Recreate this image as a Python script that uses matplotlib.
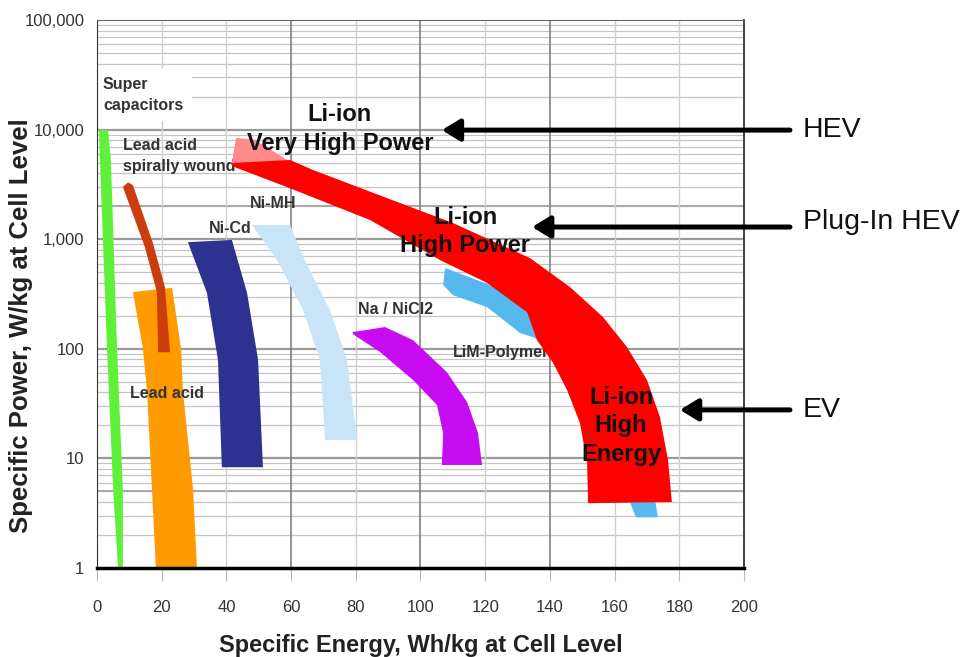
import matplotlib
matplotlib.use("Agg")
import matplotlib.pyplot as plt
from matplotlib.patches import Polygon
from matplotlib.ticker import FixedLocator, FuncFormatter
import numpy as np

plt.rcParams['font.family'] = ['Liberation Sans', 'DejaVu Sans']

# axis ticks
energy_ticks = [0, 20, 40, 60, 80, 100, 120, 140, 160, 180, 200]
power_ticks = [1, 10, 100, 1000, 10000, 100000]

# each chemistry: (energy, power) along one edge, then along the other edge
supercap_e_a = [0.6, 0.9, 3.1, 5.0, 6.5]
supercap_p_a = [9900, 5300, 100, 5.2, 1]
supercap_e_b = [3.4, 4.3, 6.2, 8.0, 8.0]
supercap_p_b = [9900, 5300, 100, 5.2, 1]

spiral_e_a = [8.0, 14.8, 18.5, 18.9]
spiral_p_a = [3000, 850, 330, 93]
spiral_e_b = [9.6, 11.1, 17.3, 21.0, 22.6]
spiral_p_b = [3300, 3120, 920, 366, 93]

leadacid_e_a = [11.1, 14.2, 15.5, 17.0, 18.2]
leadacid_p_a = [330, 100, 40, 5.2, 1]
leadacid_e_b = [23.2, 26.0, 26.6, 29.7, 30.9]
leadacid_p_b = [360, 100, 40, 5.2, 1]

nicd_e_a = [28.1, 34.0, 37.4, 38.6]
nicd_p_a = [940, 323, 79, 8.3]
nicd_e_b = [41.7, 46.4, 49.8, 51.3]
nicd_p_b = [985, 323, 79, 8.3]

nimh_e_a = [47.9, 55.6, 63.7, 68.9, 70.5]
nimh_p_a = [1350, 650, 226, 79, 14.7]
nimh_e_b = [59.7, 63.7, 72.0, 77.3, 80.4]
nimh_p_b = [1350, 690, 226, 79, 14.7]

nacl_e_a = [79.1, 89.0, 97.7, 108.2, 114.4, 117.8, 119.0]
nacl_p_a = [142, 158, 120, 61, 32.7, 17.0, 8.7]
nacl_e_b = [79.1, 87.5, 97.7, 105.1, 107.0, 106.6]
nacl_p_b = [136, 93.5, 51.9, 30.7, 17.0, 8.7]

lim_e_a = [107.6, 121.5, 136.9, 152.4, 164.8, 172.5, 173.4]
lim_p_a = [546, 382, 226, 64, 14.7, 4.2, 2.9]
lim_e_b = [107.0, 110.0, 120.6, 130.8, 134.8, 143.1, 147.8, 157.0, 163.2, 166.6]
lim_p_b = [382, 309, 240, 139, 128, 93.5, 64, 18.2, 5.15, 2.9]

liion_e_a = [41.7, 59.7, 66.8, 89.6, 110, 133.8, 146.2, 156.4, 163.8, 170, 174, 176.5, 177.7]
liion_p_a = [4960, 5280, 4280, 2375, 1406, 674, 366, 195, 104, 52, 23.9, 9.7, 4.0]
liion_e_b = [41.7, 58.7, 84.4, 106, 120.6, 133.0, 136.0, 141.0, 145.3, 149.3, 151.5, 151.8]
liion_p_b = [4650, 2995, 1497, 646, 399, 215, 120, 74.2, 42.1, 21.0, 9.1, 3.9]

tip_e = [41.7, 43.0, 48.8, 60.3]
tip_p = [4960, 8400, 8100, 4960]

# text labels
small_labels = ['Super\ncapacitors', 'Lead acid\nspirally wound', 'Ni-MH', 'Ni-Cd',
                'Lead acid', 'Na / NiCl2', 'LiM-Polymer']
small_e = [1.85, 8.0, 47.3, 34.6, 10.2, 80.7, 110.0]
small_p = [20700, 5800, 2140, 1240, 39.5, 226, 91.6]

big_labels = ['Li-ion\nVery High Power', 'Li-ion\nHigh Power', 'Li-ion\nHigh\nEnergy']
big_e = [75.1, 113.8, 162.0]
big_p = [10100, 1175, 19.8]

vehicles = ['HEV', 'Plug-In HEV', 'EV']
arrow_head_e = [106.6, 134.5, 180.2]
arrow_p = [9900, 1292, 27.7]
label_p = [9900, 1435, 27.7]
arrow_tail_e = 214.2
label_e = 218.2


def band(e_a, p_a, e_b, p_b):
    pts = list(zip(e_a, p_a)) + list(zip(e_b[::-1], p_b[::-1]))
    return np.array(pts)


fig = plt.figure(figsize=(9.66, 6.57), dpi=100)
ax = fig.add_axes([0.1004, 0.1355, 0.6698, 0.834])
ax.set_yscale('log')
ax.set_xlim(0, 200)
ax.set_ylim(1, 100000)

# grid
for dec in [1, 10, 100, 1000, 10000]:
    for m in range(2, 10):
        ax.axhline(dec * m, color='#c4c4c4', lw=0.9, zorder=0)
for v in power_ticks[1:-1]:
    ax.axhline(v, color='#9a9a9a', lw=1.6, zorder=0)
ax.axhline(5, color='#a8a8a8', lw=1.4, zorder=0)
ax.axhline(2000, color='#a8a8a8', lw=1.4, zorder=0)
for x in energy_ticks[1:-1]:
    dark = x in (60, 100, 140)
    ax.axvline(x, color='#808080' if dark else '#cfcfcf', lw=1.2 if dark else 1.0, zorder=0)

shapes = [
    (band(supercap_e_a, supercap_p_a, supercap_e_b, supercap_p_b), '#5ff03a', 2),
    (band(leadacid_e_a, leadacid_p_a, leadacid_e_b, leadacid_p_b), '#ff9a00', 2),
    (band(spiral_e_a, spiral_p_a, spiral_e_b, spiral_p_b), '#cc3d0e', 2.2),
    (band(nicd_e_a, nicd_p_a, nicd_e_b, nicd_p_b), '#2d3190', 2),
    (band(nimh_e_a, nimh_p_a, nimh_e_b, nimh_p_b), '#c8e4f6', 2),
    (band(nacl_e_a, nacl_p_a, nacl_e_b, nacl_p_b), '#c80cf2', 2),
    (band(lim_e_a, lim_p_a, lim_e_b, lim_p_b), '#55b9ee', 2),
    (np.column_stack([tip_e, tip_p]), '#ff8a8a', 2.9),
    (band(liion_e_a, liion_p_a, liion_e_b, liion_p_b), '#ff0000', 3),
]
for pts, col, z in shapes:
    ax.add_patch(Polygon(pts, closed=True, facecolor=col, edgecolor='none', zorder=z))

# small grey labels
for i, (txt, e, p) in enumerate(zip(small_labels, small_e, small_p)):
    kw = dict(fontsize=11.5, fontweight='bold', color='#333333', va='center',
              ha='left', linespacing=1.5, zorder=2.5)
    if i == 0:
        kw['bbox'] = dict(facecolor='white', edgecolor='none', pad=6)
        kw['zorder'] = 1
    ax.text(e, p, txt, **kw)

for txt, e, p in zip(big_labels, big_e, big_p):
    ax.text(e, p, txt, fontsize=17, fontweight='bold', color='#111111',
            ha='center', va='center', linespacing=1.3, zorder=5)

# arrows to vehicle classes
for name, he, ap, lp in zip(vehicles, arrow_head_e, arrow_p, label_p):
    ax.annotate('', xy=(he, ap), xytext=(arrow_tail_e, ap),
                arrowprops=dict(arrowstyle='-|>,head_length=0.9,head_width=0.55',
                                lw=3.6, color='black', shrinkA=0, shrinkB=0,
                                mutation_scale=12),
                annotation_clip=False, zorder=6)
    ax.text(label_e, lp, name, fontsize=20.5, color='#111111', ha='left',
            va='center', clip_on=False)

ax.xaxis.set_major_locator(FixedLocator(energy_ticks))
ax.yaxis.set_major_locator(FixedLocator(power_ticks))
ax.yaxis.set_minor_locator(FixedLocator([]))
ax.yaxis.set_major_formatter(FuncFormatter(lambda v, _: f'{int(v):,}'))
ax.tick_params(axis='x', length=9, color='#bbbbbb', pad=14, labelsize=12,
               labelcolor='#333333')
ax.tick_params(axis='y', length=0, pad=9, labelsize=12, labelcolor='#333333')
ax.tick_params(axis='y', which='minor', length=0)

ax.set_xlabel('Specific Energy, Wh/kg at Cell Level', fontsize=17,
              fontweight='bold', color='#222222', labelpad=14)
ax.set_ylabel('Specific Power, W/kg at Cell Level', fontsize=18.5,
              fontweight='bold', color='#222222')
ax.yaxis.set_label_coords(-0.099, 0.443)

ax.spines['bottom'].set_linewidth(2.5)
ax.spines['bottom'].set_color('black')
ax.spines['left'].set_color('#333333')
ax.spines['top'].set_color('#666666')
ax.spines['right'].set_color('#333333')
ax.spines['right'].set_linewidth(1.3)

fig.savefig('out.png', dpi=100)
